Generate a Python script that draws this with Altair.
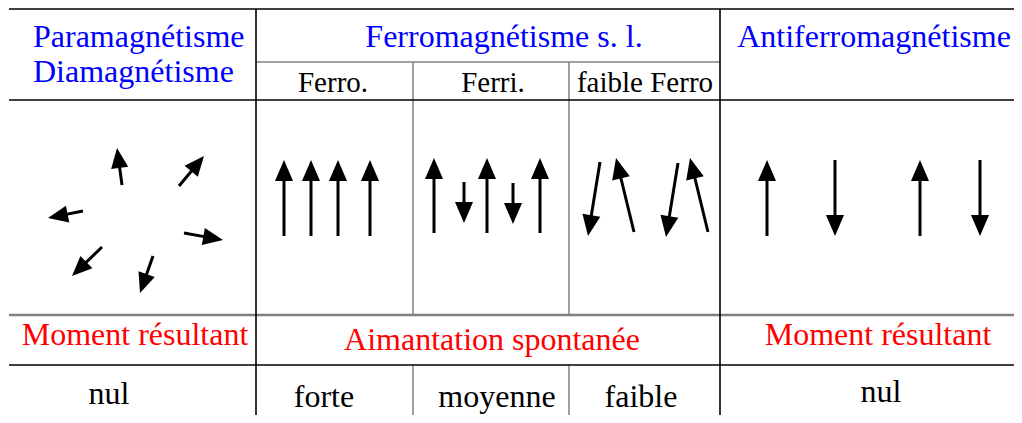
import altair as alt
import numpy as np
import pandas as pd

# ---------------- data (image pixel coordinates) ----------------
# table grid segments
black_x1 = [9, 9, 9, 256, 720]
black_y1 = [9, 100, 365, 9, 9]
black_x2 = [1022, 1022, 1022, 256, 720]
black_y2 = [9, 100, 365, 423, 423]

gray_x1 = [256, 413, 413, 569, 569]
gray_y1 = [62, 62, 365, 62, 365]
gray_x2 = [720, 413, 413, 569, 569]
gray_y2 = [62, 315, 423, 315, 423]

sep_x1 = [9]
sep_y1 = [315]
sep_x2 = [1022]
sep_y2 = [315]

# header / label texts
blue_left_text = ["Paramagnétisme", "Diamagnétisme"]
blue_left_x = [33, 33]
blue_left_y = [47, 82]

blue_center_text = ["Ferromagnétisme s. l.", "Antiferromagnétisme"]
blue_center_x = [504, 874]
blue_center_y = [47, 47]

sub_text = ["Ferro.", "Ferri.", "faible Ferro"]
sub_x = [333, 493, 645]
sub_y = [92, 92, 92]

red_text = ["Moment résultant", "Aimantation spontanée", "Moment résultant"]
red_x = [135, 492, 878]
red_y = [345, 350, 345]

bottom_text = ["nul", "forte", "moyenne", "faible", "nul"]
bottom_x = [109, 324, 497, 641, 881]
bottom_y = [404, 407, 407, 407, 402]

# spin arrows: tail -> tip
para_tail_x = [122, 179, 83, 184, 102, 153]
para_tail_y = [185, 186, 211, 233, 247, 256]
para_tip_x = [117, 204, 48, 223, 72, 140]
para_tip_y = [148, 156, 218, 240, 276, 293]

spin_tail_x = [284, 311, 338, 370,
               434, 464, 487, 513, 540,
               600, 634, 678, 708,
               767, 835, 920, 980]
spin_tail_y = [236, 236, 236, 236,
               233, 182, 233, 183, 233,
               162, 232, 163, 232,
               236, 160, 236, 160]
spin_tip_x = [284, 311, 338, 370,
              434, 464, 487, 513, 540,
              588, 616, 666, 690,
              767, 835, 920, 980]
spin_tip_y = [160, 160, 160, 160,
              158, 223, 158, 224, 158,
              236, 158, 237, 158,
              160, 236, 160, 236]

# ---------------- helpers ----------------
XS = alt.Scale(domain=[8, 1014], nice=False, zero=False)
YS = alt.Scale(domain=[8, 415], nice=False, zero=False, reverse=True)
FONT = "Liberation Serif"


def seg_df(x1, y1, x2, y2):
    return pd.DataFrame({"x1": x1, "y1": y1, "x2": x2, "y2": y2})


def rules(df, color, width):
    return alt.Chart(df).mark_rule(color=color, strokeWidth=width, strokeCap="butt").encode(
        x=alt.X("x1:Q", scale=XS, axis=None),
        y=alt.Y("y1:Q", scale=YS, axis=None),
        x2="x2:Q",
        y2="y2:Q",
    )


def texts(t, x, y, color, size, align):
    df = pd.DataFrame({"t": t, "x": x, "y": y})
    return alt.Chart(df).mark_text(
        color=color, fontSize=size, font=FONT, align=align, baseline="alphabetic"
    ).encode(
        x=alt.X("x:Q", scale=XS, axis=None),
        y=alt.Y("y:Q", scale=YS, axis=None),
        text="t:N",
    )


def arrow_df(tx, ty, hx, hy, head_len):
    tx, ty, hx, hy = map(lambda a: np.asarray(a, dtype=float), (tx, ty, hx, hy))
    dx, dy = hx - tx, hy - ty
    n = np.hypot(dx, dy)
    ux, uy = dx / n, dy / n
    ang = (np.degrees(np.arctan2(dx, -dy)) + 360) % 360
    return pd.DataFrame({
        "tx": tx, "ty": ty,
        "sx": hx - ux * head_len * 0.6, "sy": hy - uy * head_len * 0.6,
        "hx": hx, "hy": hy, "ang": ang,
    })


HEAD = "M0,0L0.86,2L-0.86,2Z"


def arrows(df, head_len, shaft_w):
    shaft = alt.Chart(df).mark_rule(color="black", strokeWidth=shaft_w, strokeCap="butt").encode(
        x=alt.X("tx:Q", scale=XS, axis=None),
        y=alt.Y("ty:Q", scale=YS, axis=None),
        x2="sx:Q",
        y2="sy:Q",
    )
    head = alt.Chart(df).mark_point(
        shape=HEAD, filled=True, color="black", opacity=1, strokeWidth=0,
        size=head_len * head_len,
    ).encode(
        x=alt.X("hx:Q", scale=XS, axis=None),
        y=alt.Y("hy:Q", scale=YS, axis=None),
        angle=alt.Angle("ang:Q", scale=None),
    )
    return [shaft, head]


layers = [
    rules(seg_df(gray_x1, gray_y1, gray_x2, gray_y2), "#808080", 1.5),
    rules(seg_df(sep_x1, sep_y1, sep_x2, sep_y2), "#808080", 2.5),
    rules(seg_df(black_x1, black_y1, black_x2, black_y2), "black", 1.6),
    texts(blue_left_text, blue_left_x, blue_left_y, "#0000ff", 32, "left"),
    texts(blue_center_text, blue_center_x, blue_center_y, "#0000ff", 32, "center"),
    texts(sub_text, sub_x, sub_y, "black", 29, "center"),
    texts(red_text, red_x, red_y, "#ff0000", 32, "center"),
    texts(bottom_text, bottom_x, bottom_y, "black", 32, "center"),
]
layers += arrows(arrow_df(para_tail_x, para_tail_y, para_tip_x, para_tip_y, 20), 20, 3)
layers += arrows(arrow_df(spin_tail_x, spin_tail_y, spin_tip_x, spin_tip_y, 21), 21, 3)

chart = alt.layer(*layers).properties(
    width=1006, height=407, padding=0, autosize="none"
).configure_view(strokeWidth=0)

chart.save("out.html", embed_options={"renderer": "svg", "actions": False})
